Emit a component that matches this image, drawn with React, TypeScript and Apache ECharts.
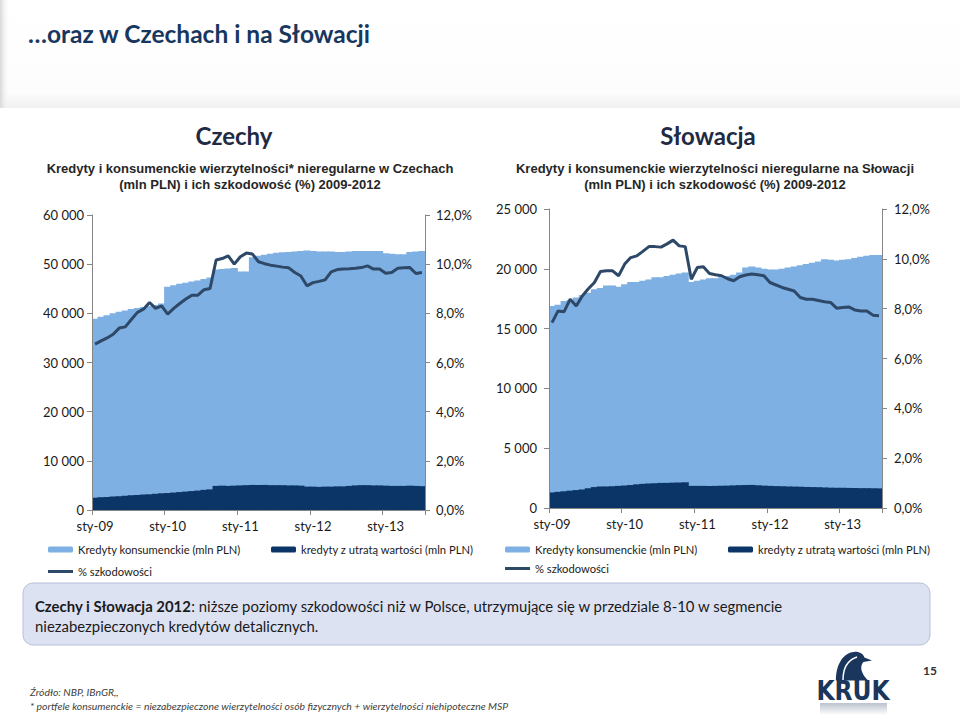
import React, { useEffect, useRef } from 'react';
import * as echarts from 'echarts';

// ---------- data ----------
const MONTHS = ['sty', 'lut', 'mar', 'kwi', 'maj', 'cze', 'lip', 'sie', 'wrz', 'paź', 'lis', 'gru'];
const YEARS = ['09', '10', '11', '12', '13'];
const MONTH_COUNT = 55;
const categories: string[] = [];
for (const y of YEARS) for (const m of MONTHS) if (categories.length < MONTH_COUNT) categories.push(`${m}-${y}`);

const S_CONSUMER = 'Kredyty konsumenckie (mln PLN)';
const S_IMPAIRED = 'kredyty z utratą wartości (mln PLN)';
const S_RATE = '% szkodowości';

// Czechy
const czConsumer = [
  38900, 39300, 39600, 40000, 40300, 40600, 40900, 41100, 41300, 41500, 41700, 42000,
  45400, 45700, 46000, 46200, 46500, 46700, 47000, 47300, 48900, 49000, 49100, 49200,
  48500, 48500, 51400, 51700, 51900, 52100, 52300, 52400, 52500, 52600, 52700, 52800,
  52700, 52600, 52600, 52600, 52500, 52500, 52600, 52700, 52700, 52700, 52700, 52700,
  52200, 52100, 52000, 52000, 52500, 52600, 52700,
];
const czImpaired = [
  2500, 2600, 2650, 2750, 2800, 2900, 3000, 3050, 3150, 3200, 3300, 3400,
  3450, 3550, 3650, 3750, 3850, 3950, 4100, 4200, 4900, 4950, 4900, 4950,
  5000, 5050, 5100, 5100, 5100, 5050, 5050, 5050, 5000, 5000, 4950, 4750,
  4750, 4700, 4750, 4750, 4800, 4800, 4900, 5000, 5050, 5050, 5000, 5000,
  4950, 4900, 4900, 4900, 4950, 4900, 4850,
];
const czRate = [
  6.75, 6.88, 7.0, 7.15, 7.4, 7.45, 7.75, 8.04, 8.17, 8.44, 8.2, 8.3,
  7.97, 8.2, 8.4, 8.58, 8.74, 8.74, 8.96, 9.01, 10.17, 10.23, 10.34, 10.0,
  10.3, 10.45, 10.41, 10.1, 10.02, 9.96, 9.92, 9.88, 9.85, 9.66, 9.52, 9.12,
  9.25, 9.3, 9.36, 9.69, 9.78, 9.8, 9.81, 9.83, 9.86, 9.93, 9.8, 9.8,
  9.63, 9.66, 9.83, 9.85, 9.86, 9.62, 9.66,
];

// Słowacja
const skConsumer = [
  16900, 17000, 17300, 17400, 17600, 17800, 18000, 18300, 18400, 18600, 18600, 18500,
  18700, 18900, 18900, 19000, 19100, 19300, 19300, 19400, 19500, 19600, 19700, 18900,
  19000, 19100, 19200, 19200, 19300, 19400, 19500, 19700, 20100, 20200, 20100, 20000,
  19950, 19950, 20000, 20100, 20200, 20300, 20400, 20500, 20600, 20800, 20750, 20700,
  20750, 20800, 20900, 21000, 21100, 21150, 21150,
];
const skImpaired = [
  1300, 1350, 1400, 1450, 1500, 1550, 1650, 1750, 1800, 1800, 1820, 1850,
  1880, 1920, 1980, 2020, 2050, 2070, 2100, 2100, 2120, 2130, 2150, 1850,
  1850, 1850, 1840, 1850, 1860, 1870, 1890, 1910, 1920, 1930, 1900, 1870,
  1850, 1830, 1820, 1800, 1790, 1780, 1760, 1750, 1740, 1720, 1700, 1690,
  1690, 1680, 1670, 1660, 1660, 1650, 1640,
];
const skRate = [
  7.44, 7.91, 7.88, 8.38, 8.11, 8.51, 8.8, 9.05, 9.49, 9.52, 9.52, 9.32,
  9.79, 10.05, 10.12, 10.3, 10.49, 10.49, 10.47, 10.6, 10.75, 10.52, 10.49, 9.18,
  9.65, 9.68, 9.41, 9.36, 9.32, 9.2, 9.12, 9.28, 9.35, 9.39, 9.36, 9.32,
  9.05, 8.95, 8.85, 8.78, 8.71, 8.45, 8.38, 8.38, 8.33, 8.28, 8.25, 8.02,
  8.05, 8.07, 7.95, 7.91, 7.91, 7.74, 7.72,
];

// ---------- styles ----------
const C_LIGHT = '#7EB0E4';
const C_DARK = '#0B3566';
const C_LINE = '#2E4868';
const C_AXIS = '#868686';
const FONT = 'Lato, "Open Sans", sans-serif';

echarts.graphic.registerShape(
  'krukBird',
  echarts.graphic.extendPath(
    'M2 32 C2 16 9 3 21 2 C27 1.5 31 4.5 32 8 L40 11 L31 12.5 C28.5 15 28 19 29.5 23 C31 27 33.5 30 36 32 Z',
    {}
  )
);

const fmtThousands = (v: number) => String(v).replace(/\B(?=(\d{3})+(?!\d))/g, ' ');
const fmtPct = (v: number) => v.toFixed(1).replace('.', ',') + '%';

function xAxisFor(gridIndex: number) {
  return {
    type: 'category',
    gridIndex,
    data: categories,
    boundaryGap: true,
    axisLine: { show: true, lineStyle: { color: C_AXIS, width: 1 } },
    axisTick: { show: true, interval: 11, length: 5, lineStyle: { color: C_AXIS } },
    axisLabel: { interval: 11, color: '#1a1a1a', fontFamily: FONT, fontSize: 13, margin: 9 },
    splitLine: { show: false },
    z: 3,
  };
}

function yAxisFor(gridIndex: number, position: string, max: number, interval: number, fmt: (v: number) => string, margin: number) {
  return {
    type: 'value',
    gridIndex,
    position,
    min: 0,
    max,
    interval,
    axisLine: { show: true, lineStyle: { color: C_AXIS, width: 1 } },
    axisTick: { show: true, length: 5, lineStyle: { color: C_AXIS } },
    splitLine: { show: false },
    axisLabel: { formatter: fmt, color: '#1a1a1a', fontFamily: FONT, fontSize: 13, margin },
    z: 3,
  };
}

function seriesFor(xi: number, yl: number, yr: number, consumer: number[], impaired: number[], rate: number[]) {
  return [
    {
      name: S_CONSUMER,
      type: 'bar',
      xAxisIndex: xi,
      yAxisIndex: yl,
      data: consumer,
      barGap: '-100%',
      barWidth: '118%',
      itemStyle: { color: C_LIGHT },
    },
    {
      name: S_IMPAIRED,
      type: 'bar',
      xAxisIndex: xi,
      yAxisIndex: yl,
      data: impaired,
      barGap: '-100%',
      barWidth: '118%',
      itemStyle: { color: C_DARK },
    },
    {
      name: S_RATE,
      type: 'line',
      xAxisIndex: xi,
      yAxisIndex: yr,
      data: rate,
      symbol: 'none',
      lineStyle: { color: C_LINE, width: 3 },
      itemStyle: { color: C_LINE },
      z: 5,
    },
  ];
}

function legendAt(name: string, left: number, top: number, isLine = false) {
  return {
    data: [isLine ? { name, icon: 'rect' } : name],
    left,
    top,
    padding: 0,
    itemWidth: 25,
    itemHeight: isLine ? 3 : 6,
    selectedMode: false,
    textStyle: { fontFamily: FONT, fontSize: 11.2, color: '#1a1a1a' },
  };
}

export default function App() {
  const ref = useRef<HTMLDivElement>(null);

  useEffect(() => {
    if (!ref.current) return;
    const chart = echarts.init(ref.current, undefined, { renderer: 'svg' });

    const option: any = {
      animation: false,
      backgroundColor: '#ffffff',
      grid: [
        { left: 92, top: 215, width: 333, height: 295 },
        { left: 549, top: 209, width: 333, height: 299 },
      ],
      xAxis: [xAxisFor(0), xAxisFor(1)],
      yAxis: [
        yAxisFor(0, 'left', 60000, 10000, fmtThousands, 8),
        yAxisFor(0, 'right', 12, 2, fmtPct, 11),
        yAxisFor(1, 'left', 25000, 5000, fmtThousands, 12),
        yAxisFor(1, 'right', 12, 2, fmtPct, 12),
      ],
      legend: [
        legendAt(S_CONSUMER, 48, 544),
        legendAt(S_IMPAIRED, 271, 544),
        legendAt(S_RATE, 48, 566, true),
        legendAt(S_CONSUMER, 505, 544),
        legendAt(S_IMPAIRED, 728, 544),
        legendAt(S_RATE, 505, 563, true),
      ],
      series: [
        ...seriesFor(0, 0, 1, czConsumer, czImpaired, czRate),
        ...seriesFor(1, 2, 3, skConsumer, skImpaired, skRate),
      ],
      graphic: [
        // header band
        {
          type: 'rect',
          z: -10,
          shape: { x: 0, y: 0, width: 960, height: 108 },
          style: {
            fill: new echarts.graphic.LinearGradient(0, 0, 0, 1, [
              { offset: 0, color: '#ffffff' },
              { offset: 0.85, color: '#fdfdfd' },
              { offset: 1, color: '#f0f0f0' },
            ]),
          },
        },
        {
          type: 'rect',
          z: -9,
          shape: { x: 0, y: 0, width: 10, height: 108 },
          style: {
            fill: new echarts.graphic.LinearGradient(0, 0, 1, 0, [
              { offset: 0, color: '#d8d8d8' },
              { offset: 1, color: 'rgba(255,255,255,0)' },
            ]),
          },
        },
        {
          type: 'text',
          x: 28,
          y: 33,
          style: {
            text: '…oraz w Czechach i na Słowacji',
            font: `bold 24.5px ${FONT}`,
            fill: '#17375E',
            verticalAlign: 'middle',
          },
        },
        // chart titles
        {
          type: 'text',
          x: 234,
          y: 135,
          style: { text: 'Czechy', font: `bold 24px ${FONT}`, fill: '#1F2A44', align: 'center', verticalAlign: 'middle' },
        },
        {
          type: 'text',
          x: 708,
          y: 135,
          style: { text: 'Słowacja', font: `bold 24px ${FONT}`, fill: '#1F2A44', align: 'center', verticalAlign: 'middle' },
        },
        {
          type: 'text',
          x: 250,
          y: 168,
          style: {
            text: 'Kredyty i konsumenckie wierzytelności* nieregularne w Czechach',
            font: 'bold 13px "Liberation Sans", Arial, sans-serif',
            fill: '#262626',
            align: 'center',
            verticalAlign: 'middle',
          },
        },
        {
          type: 'text',
          x: 250,
          y: 184,
          style: {
            text: '(mln PLN) i ich szkodowość (%) 2009-2012',
            font: 'bold 13px "Liberation Sans", Arial, sans-serif',
            fill: '#262626',
            align: 'center',
            verticalAlign: 'middle',
          },
        },
        {
          type: 'text',
          x: 715,
          y: 168,
          style: {
            text: 'Kredyty i konsumenckie wierzytelności nieregularne na Słowacji',
            font: 'bold 13px "Liberation Sans", Arial, sans-serif',
            fill: '#262626',
            align: 'center',
            verticalAlign: 'middle',
          },
        },
        {
          type: 'text',
          x: 715,
          y: 184,
          style: {
            text: '(mln PLN) i ich szkodowość (%) 2009-2012',
            font: 'bold 13px "Liberation Sans", Arial, sans-serif',
            fill: '#262626',
            align: 'center',
            verticalAlign: 'middle',
          },
        },
        // comment box
        {
          type: 'rect',
          shape: { x: 23, y: 583, width: 907, height: 62, r: 10 },
          style: { fill: '#DDE2F3', stroke: '#B8C0DC', lineWidth: 1 },
        },
        {
          type: 'text',
          x: 35,
          y: 606,
          style: {
            text: '{b|Czechy i Słowacja 2012}: niższe poziomy szkodowości niż w Polsce, utrzymujące się w przedziale 8-10 w segmencie',
            font: `14.9px ${FONT}`,
            fill: '#1a1a1a',
            verticalAlign: 'middle',
            rich: { b: { font: `bold 14.9px ${FONT}`, fill: '#1a1a1a' } },
          },
        },
        {
          type: 'text',
          x: 35,
          y: 626,
          style: {
            text: 'niezabezpieczonych kredytów detalicznych.',
            font: `14.9px ${FONT}`,
            fill: '#1a1a1a',
            verticalAlign: 'middle',
          },
        },
        // footnotes
        {
          type: 'text',
          x: 30,
          y: 692,
          style: { text: 'Źródło: NBP, IBnGR,,', font: `italic 10.4px ${FONT}`, fill: '#404040', verticalAlign: 'middle' },
        },
        {
          type: 'text',
          x: 30,
          y: 706,
          style: {
            text: '* portfele konsumenckie = niezabezpieczone wierzytelności osób fizycznych + wierzytelności niehipoteczne MSP',
            font: `italic 10.4px ${FONT}`,
            fill: '#404040',
            verticalAlign: 'middle',
          },
        },
        // logo
        {
          type: 'krukBird',
          x: 834,
          y: 650,
          scaleX: 0.95,
          scaleY: 0.95,
          style: { fill: '#1B365D' },
        },
        {
          type: 'bezierCurve',
          shape: { x1: 843, y1: 680, cpx1: 843, cpy1: 668, cpx2: 848, cpy2: 660, x2: 857, y2: 657 },
          style: { stroke: '#ffffff', lineWidth: 1.5, fill: 'none' },
        },
        {
          type: 'text',
          x: 853,
          y: 691,
          style: {
            text: 'KRUK',
            font: 'bold 26px "DejaVu Sans Condensed", "DejaVu Sans", sans-serif',
            fill: '#1B365D',
            align: 'center',
            verticalAlign: 'middle',
          },
        },
        {
          type: 'rect',
          shape: { x: 820, y: 703, width: 67, height: 12 },
          style: {
            fill: new echarts.graphic.LinearGradient(0, 0, 0, 1, [
              { offset: 0, color: 'rgba(27,54,93,0.30)' },
              { offset: 1, color: 'rgba(27,54,93,0)' },
            ]),
          },
        },
        {
          type: 'text',
          x: 930,
          y: 670,
          style: { text: '15', font: `bold 12px ${FONT}`, fill: '#333333', align: 'center', verticalAlign: 'middle' },
        },
      ],
    };

    chart.setOption(option);
    return () => chart.dispose();
  }, []);

  return (
    <div
      ref={ref}
      style={{ position: 'fixed', left: 0, top: 0, width: 960, height: 719, background: '#ffffff' }}
    />
  );
}
